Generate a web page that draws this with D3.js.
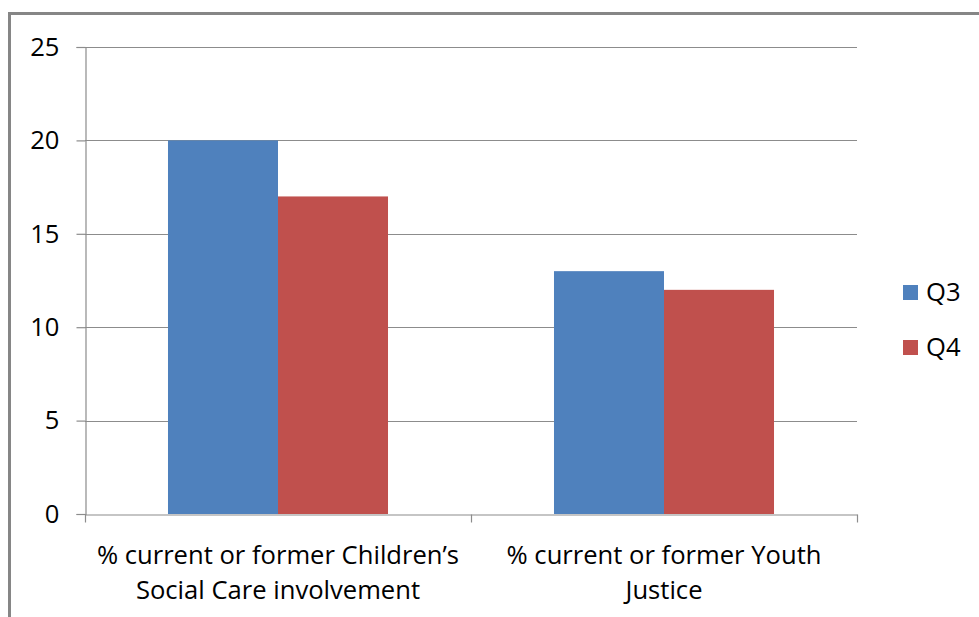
<!DOCTYPE html>
<html>
<head>
<meta charset="utf-8">
<script src="https://cdn.jsdelivr.net/npm/d3@7"></script>
<style>
  html, body { margin: 0; padding: 0; background: #fff; }
  svg { display: block; }
  text { font-family: "Open Sans", sans-serif; fill: #000; }
</style>
</head>
<body>
<svg id="chart" width="979" height="617"></svg>
<script>
const categories = ["% current or former Children’s\nSocial Care involvement", "% current or former Youth\nJustice"];
const seriesNames = ["Q3", "Q4"];
const q3Values = [20, 13];
const q4Values = [17, 12];
const yTicks = [0, 5, 10, 15, 20, 25];
const colors = ["#4F81BD", "#C0504D"];

const seriesValues = [q3Values, q4Values];
const data = categories.map((c, i) => ({
  cat: c,
  vals: seriesNames.map((s, j) => ({ key: s, value: seriesValues[j][i] }))
}));

const svg = d3.select("#chart");
const W = 979, H = 617;
const FS = 25.6;

// outer frame (cropped chart border)
svg.append("path")
  .attr("d", `M9.5,${H + 5} L9.5,13.5 L${W + 5},13.5`)
  .attr("fill", "none")
  .attr("stroke", "#868686")
  .attr("stroke-width", 3);

const plot = { left: 85, right: 857, top: 47, bottom: 514 };

const x0 = d3.scaleBand()
  .domain(categories)
  .range([plot.left, plot.right])
  .paddingInner(0.43)
  .paddingOuter(0.215);

const x1 = d3.scaleBand()
  .domain(seriesNames)
  .range([0, x0.bandwidth()]);

const y = d3.scaleLinear()
  .domain([0, 25])
  .range([plot.bottom, plot.top]);

const color = d3.scaleOrdinal().domain(seriesNames).range(colors);

// gridlines
svg.append("g")
  .selectAll("line")
  .data(yTicks.filter(t => t > 0))
  .join("line")
  .attr("x1", plot.left)
  .attr("x2", plot.right)
  .attr("y1", d => Math.round(y(d)) + 0.5)
  .attr("y2", d => Math.round(y(d)) + 0.5)
  .attr("stroke", "#8c8c8c")
  .attr("stroke-width", 1.2);

// bars
svg.append("g")
  .selectAll("g")
  .data(data)
  .join("g")
  .attr("transform", d => `translate(${x0(d.cat)},0)`)
  .selectAll("rect")
  .data(d => d.vals)
  .join("rect")
  .attr("x", d => x1(d.key))
  .attr("y", d => y(d.value))
  .attr("width", x1.bandwidth())
  .attr("height", d => y(0) - y(d.value))
  .attr("fill", d => color(d.key));

// y axis
const yAxis = d3.axisLeft(y).tickValues(yTicks).tickSize(9).tickPadding(17);
const gy = svg.append("g")
  .attr("transform", `translate(${plot.left + 0.5},0)`)
  .call(yAxis);
gy.select(".domain").attr("stroke", "#8c8c8c").attr("stroke-width", 1.2);
gy.selectAll(".tick line").attr("stroke", "#8c8c8c").attr("stroke-width", 1.2);
gy.selectAll(".tick text")
  .attr("font-size", FS)
  .attr("font-family", "Open Sans, sans-serif")
  .attr("fill", "#000");

// x axis
const xAxis = d3.axisBottom(x0).tickSize(0).tickFormat("");
const gx = svg.append("g")
  .attr("transform", `translate(0,${plot.bottom + 0.5})`)
  .call(xAxis);
gx.select(".domain").attr("stroke", "#8c8c8c").attr("stroke-width", 1.2);
gx.selectAll(".tick").remove();

// category boundary ticks
const boundaries = [plot.left, ...categories.map(c => x0(c) + x0.bandwidth() / 2 + x0.step() / 2)];
gx.selectAll(".btick")
  .data(boundaries)
  .join("line")
  .attr("class", "btick")
  .attr("x1", d => Math.round(d) + 0.5)
  .attr("x2", d => Math.round(d) + 0.5)
  .attr("y1", 0)
  .attr("y2", 8)
  .attr("stroke", "#8c8c8c")
  .attr("stroke-width", 1.2);

// category labels
svg.append("g")
  .selectAll("text")
  .data(categories)
  .join("text")
  .attr("text-anchor", "middle")
  .attr("font-size", FS)
  .attr("transform", d => `translate(${x0(d) + x0.bandwidth() / 2},0)`)
  .selectAll("tspan")
  .data(d => d.split("\n"))
  .join("tspan")
  .attr("x", 0)
  .attr("y", (d, i) => 564 + i * 35)
  .text(d => d);

// legend
const legend = svg.append("g")
  .selectAll("g")
  .data(seriesNames)
  .join("g")
  .attr("transform", (d, i) => `translate(903,${285 + i * 55})`);
legend.append("rect")
  .attr("width", 15)
  .attr("height", 15)
  .attr("fill", d => color(d));
legend.append("text")
  .attr("x", 23)
  .attr("y", 15.5)
  .attr("font-size", FS)
  .text(d => d);
</script>
</body>
</html>
